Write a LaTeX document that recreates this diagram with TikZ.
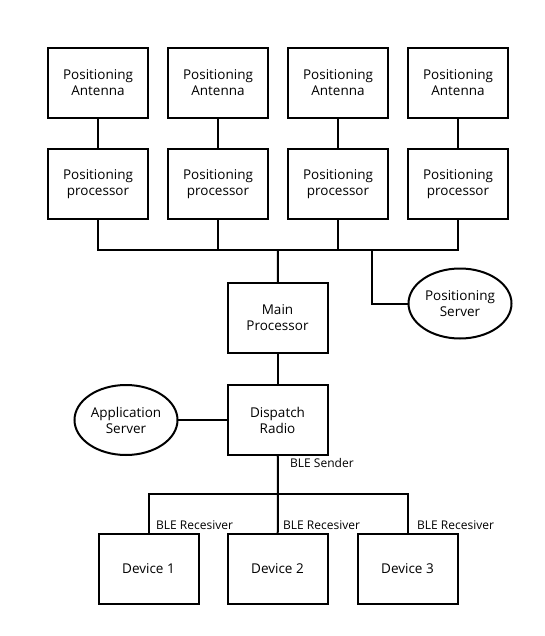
\documentclass[tikz,border=0pt]{standalone}
\usepackage{fontspec}
\setmainfont{Open Sans}
\usetikzlibrary{positioning, shapes.geometric}

\begin{document}
\begin{tikzpicture}[x=1pt, y=-1pt,
        box/.style={draw, line width=2pt, minimum width=100pt, minimum height=70pt,
                    inner sep=0pt, outer sep=0pt, font=\fontsize{13.5}{16}\selectfont, align=center},
        server/.style={draw, ellipse, line width=2pt, minimum width=103pt, minimum height=70pt,
                    inner sep=0pt, outer sep=0pt, font=\fontsize{13.5}{16}\selectfont, align=center},
        wire/.style={line width=2pt},
        tag/.style={anchor=west, inner sep=0pt, font=\fontsize{12}{14}\selectfont}
      ]
        \useasboundingbox (0,0) rectangle (544,636);
        % antennas and their processors
        \node[box] (ant1) at (98,83) {Positioning\\Antenna};
        \node[box] (ant2) [right=20pt of ant1] {Positioning\\Antenna};
        \node[box] (ant3) [right=20pt of ant2] {Positioning\\Antenna};
        \node[box] (ant4) [right=20pt of ant3] {Positioning\\Antenna};
        \node[box] (pp1) [below=31pt of ant1] {Positioning\\processor};
        \node[box] (pp2) [below=31pt of ant2] {Positioning\\processor};
        \node[box] (pp3) [below=31pt of ant3] {Positioning\\processor};
        \node[box] (pp4) [below=31pt of ant4] {Positioning\\processor};
        % core
        \node[box] (main)  at (277.5,318) {Main\\Processor};
        \node[box] (radio) [below=32pt of main] {Dispatch\\Radio};
        \node[server] (pserver) at (460,303.5) {Positioning\\Server};
        \node[server] (aserver) at (126,420) {Application\\Server};
        % devices
        \node[box] (dev1) at (148.5,568.5) {Device 1};
        \node[box] (dev2) [right=29pt of dev1] {Device 2};
        \node[box] (dev3) [right=30pt of dev2] {Device 3};
        \coordinate (bus) at (278,250);
        \coordinate (tap) at (372,250);
        \coordinate (ble) at (278,494);
        \foreach \i in {1,...,4}
          \draw[wire] (ant\i) -- (pp\i);
        \draw[wire] (pp1.south) |- (bus) -| (pp4.south);
        \draw[wire] (pp2.south) -- (pp2.south |- bus);
        \draw[wire] (pp3.south) -- (pp3.south |- bus);
        \draw[wire] (bus) -- (main);
        \draw[wire] (tap) |- (pserver.west);
        \draw[wire] (main) -- (radio);
        \draw[wire] (aserver) -- (radio);
        \draw[wire] (radio) -- (ble);
        \draw[wire] (dev1.north) |- (ble) -| (dev3.north);
        \draw[wire] (ble) -- (dev2);
        \node[tag] (send) at (290,463) {BLE Sender};
        \node[tag] (recv1) at (156,525) {BLE Recesiver};
        \node[tag] (recv2) at (283,525) {BLE Recesiver};
        \node[tag] (recv3) at (417,525) {BLE Recesiver};
      \end{tikzpicture}
\end{document}
